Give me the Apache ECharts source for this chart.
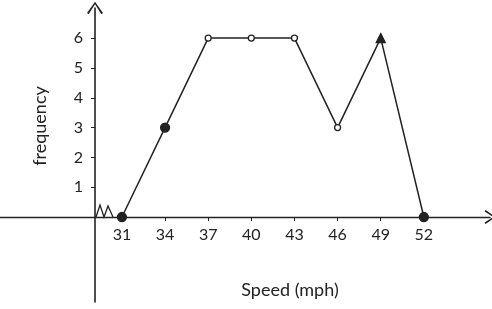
<!DOCTYPE html>
<html>
<head>
<meta charset="UTF-8">
<title>ECharts</title>
<script src="https://cdn.jsdelivr.net/npm/echarts@6/dist/echarts.min.js"></script>
</head>
<body style="margin:0;background:#fff">
<div id="main" style="width:492px;height:309px"></div>
<script>
var speeds = [31, 34, 37, 40, 43, 46, 49, 52];
var freqs = [0, 3, 6, 6, 6, 3, 6, 0];
var yTicks = [1, 2, 3, 4, 5, 6];

var filled = [true, true, false, false, false, false, true, true];
var pts = [];
for (var i = 0; i < speeds.length; i++) {
    pts.push({
        value: [speeds[i], freqs[i]],
        symbol: i == 6 ? 'triangle' : 'circle',
        symbolSize: filled[i] ? 9 : 6,
        itemStyle: { color: filled[i] ? '#222' : '#fff', borderColor: '#222', borderWidth: 1.3 }
    });
}

var chev = 'path://M10,0 L20,14 L18,15.5 L10,3 L2,15.5 L0,14 Z';

var myChart = echarts.init(document.getElementById('main'));
var option = {
    animation: false,
    grid: { left: 0, right: 2, top: 8, bottom: 7, containLabel: false, outerBoundsMode: 'none' },
    xAxis: {
        type: 'value',
        min: 22.52,
        max: 56.6,
        offset: -85,
        splitLine: { show: false },
        axisLine: { onZero: false, lineStyle: { color: '#222', width: 1.4 }, symbol: ['none', chev], symbolSize: [14, 12] },
        axisTick: { customValues: speeds, length: 4, inside: false, lineStyle: { color: '#222' } },
        axisLabel: { customValues: speeds, color: '#222', fontSize: 16, fontFamily: 'Lato', margin: 10 }
    },
    yAxis: {
        type: 'value',
        min: -2.85,
        max: 7.01,
        offset: -95,
        splitLine: { show: false },
        axisLine: { onZero: false, lineStyle: { color: '#222', width: 1.6 }, symbol: ['none', chev], symbolSize: [16, 14] },
        axisTick: { customValues: yTicks, length: 4, lineStyle: { color: '#222' } },
        axisLabel: { customValues: yTicks, color: '#222', fontSize: 16, fontFamily: 'Lato', margin: 12 }
    },
    graphic: [
        { type: 'polyline', shape: { points: [[96, 217], [100, 205], [104, 217], [108, 206], [113, 217]] }, style: { stroke: '#222', lineWidth: 1.3, fill: null } },
        { type: 'text', x: 290, y: 290, style: { text: 'Speed (mph)', font: '18px Lato', fill: '#222', textAlign: 'center', textVerticalAlign: 'middle' } },
        { type: 'text', x: 40, y: 126, rotation: Math.PI / 2, style: { text: 'frequency', font: '18px Lato', fill: '#222', textAlign: 'center', textVerticalAlign: 'middle' } }
    ],
    series: [{
        type: 'line',
        data: pts,
        lineStyle: { color: '#222', width: 1.5 },
        z: 3
    }]
};
myChart.setOption(option);
</script>
</body>
</html>
